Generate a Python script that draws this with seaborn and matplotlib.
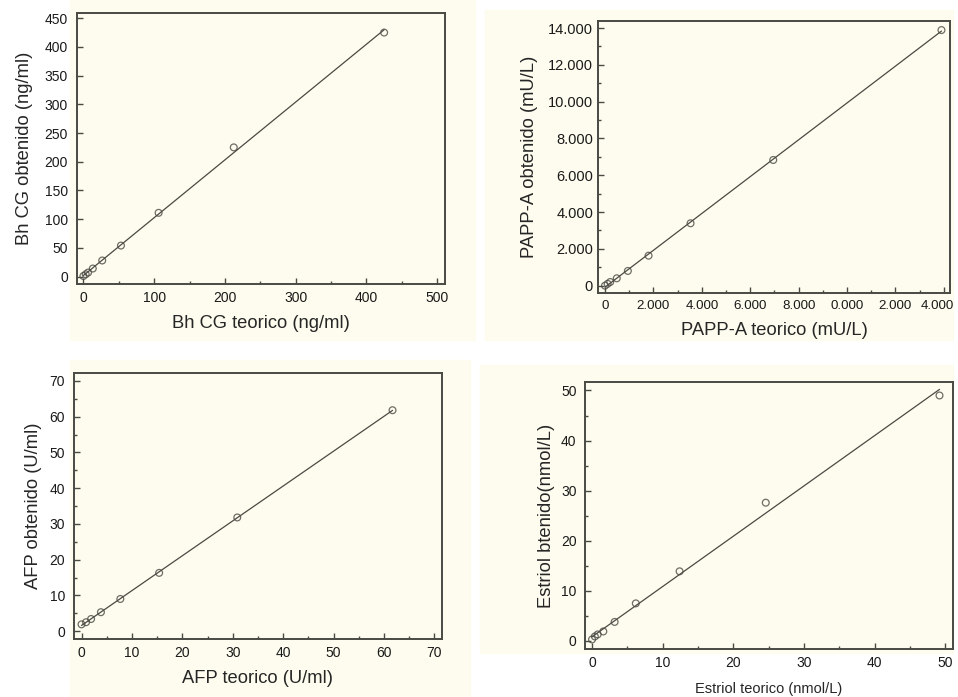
import numpy as np
import matplotlib
matplotlib.use("Agg")
import matplotlib.pyplot as plt
from matplotlib.patches import Rectangle
from matplotlib.ticker import MultipleLocator
from matplotlib.transforms import ScaledTranslation
import seaborn as sns

sns.set_style("ticks")
plt.rcParams['font.family'] = ['Liberation Sans', 'DejaVu Sans']

# values
bhcg_teorico = [0, 3.3, 6.6, 13.3, 26.6, 53.1, 106.3, 212.5, 425]
bhcg_obtenido = [1, 4, 7, 14, 28, 54, 111, 225, 425]

pappa_teorico = [0, 108, 216, 486, 944, 1800, 3534, 6950, 13900]
pappa_obtenido = [0, 100, 200, 400, 800, 1630, 3390, 6830, 13890]

afp_teorico = [0, 0.9, 1.9, 3.85, 7.7, 15.4, 30.9, 61.7]
afp_obtenido = [1.9, 2.5, 3.4, 5.3, 9.0, 16.3, 31.8, 61.8]

estriol_teorico = [0, 0.4, 0.8, 1.6, 3.2, 6.2, 12.4, 24.6, 49.2]
estriol_obtenido = [0.3, 0.9, 1.3, 1.9, 3.8, 7.5, 13.9, 27.6, 49.0]

pappa_ticks = [0, 2000, 4000, 6000, 8000, 10000, 12000, 14000]
pappa_xlabels = ['0', '2.000', '4.000', '6.000', '8.000', '0.000', '2.000', '4.000']
pappa_ylabels = ['0', '2.000', '4.000', '6.000', '8.000', '10.000', '12.000', '14.000']

cream = '#fdfcee'
dark = '#4a4a44'

fig = plt.figure(figsize=(9.58, 6.97), dpi=100)

# cream backgrounds behind each panel (pixel boxes: left, top, right, bottom)
for l, t, r, b in [(70, 0, 475, 340), (485, 10, 953, 340),
                   (70, 360, 470, 697), (480, 365, 953, 653)]:
    fig.patches.append(Rectangle((l / 958, 1 - b / 697), (r - l) / 958, (b - t) / 697,
                                 transform=fig.transFigure, color=cream, zorder=-10))

ax1 = fig.add_axes([0.0804, 0.5925, 0.3841, 0.3888])
ax2 = fig.add_axes([0.6242, 0.5796, 0.3674, 0.3902])
ax3 = fig.add_axes([0.0772, 0.0832, 0.3841, 0.3816])
ax4 = fig.add_axes([0.6106, 0.0689, 0.3841, 0.3831])


def panel(ax, x, y, size=10, ypad=6.5):
    sns.regplot(x=np.array(x), y=np.array(y), ax=ax, ci=None, truncate=True,
                marker='o',
                scatter_kws=dict(facecolors='none', edgecolors=dark, s=24, linewidths=0.9),
                line_kws=dict(color=dark, lw=0.9))
    ax.set_facecolor(cream)
    for s in ax.spines.values():
        s.set_visible(True)
        s.set_color(dark)
        s.set_linewidth(1.4)
    ax.tick_params(which='major', direction='in', length=4, width=1, color=dark,
                   labelsize=size, labelcolor='#1a1a1a', top=False, right=False)
    ax.tick_params(axis='x', which='major', pad=5)
    ax.tick_params(axis='y', which='major', pad=ypad)
    ax.tick_params(which='minor', direction='in', length=2, width=1, color=dark,
                   top=False, right=False)


panel(ax1, bhcg_teorico, bhcg_obtenido)
ax1.set_xlim(-9, 511)
ax1.set_ylim(-13, 459)
ax1.xaxis.set_major_locator(MultipleLocator(100))
ax1.xaxis.set_minor_locator(MultipleLocator(50))
ax1.yaxis.set_major_locator(MultipleLocator(50))
ax1.set_xlabel('Bh CG teorico (ng/ml)', fontsize=13.2, labelpad=7)
ax1.set_ylabel('Bh CG obtenido (ng/ml)', fontsize=13.2, labelpad=8.5)

panel(ax2, pappa_teorico, pappa_obtenido, size=10.5, ypad=3.5)
ax2.tick_params(axis='x', labelsize=9.6)
ax2.set_xlim(-290, 14250)
ax2.set_ylim(-400, 14380)
ax2.set_xticks(pappa_ticks, pappa_xlabels)
ax2.set_yticks(pappa_ticks, pappa_ylabels)
ax2.xaxis.set_minor_locator(MultipleLocator(1000))
ax2.yaxis.set_minor_locator(MultipleLocator(1000))
ax2.set_xlabel('PAPP-A teorico (mU/L)', fontsize=13.2, labelpad=7.5)
ax2.set_ylabel('PAPP-A obtenido (mU/L)', fontsize=13.2, labelpad=7)
# last x label sits a little to the left so it stays inside the picture
last = ax2.get_xticklabels()[-1]
last.set_transform(last.get_transform() + ScaledTranslation(-5 / 72, 0, fig.dpi_scale_trans))

panel(ax3, afp_teorico, afp_obtenido)
ax3.set_xlim(-1.5, 71.5)
ax3.set_ylim(-2.2, 72.2)
for a in (ax3.xaxis, ax3.yaxis):
    a.set_major_locator(MultipleLocator(10))
    a.set_minor_locator(MultipleLocator(5))
ax3.set_xlabel('AFP teorico (U/ml)', fontsize=13.2, labelpad=7)
ax3.set_ylabel('AFP obtenido (U/ml)', fontsize=13.2, labelpad=5)

panel(ax4, estriol_teorico, estriol_obtenido, ypad=6)
ax4.set_xlim(-1.0, 51.1)
ax4.set_ylim(-1.6, 51.7)
for a in (ax4.xaxis, ax4.yaxis):
    a.set_major_locator(MultipleLocator(10))
    a.set_minor_locator(MultipleLocator(5))
ax4.set_xlabel('Estriol teorico (nmol/L)', fontsize=10.5, labelpad=9)
ax4.set_ylabel('Estriol btenido(nmol/L)', fontsize=13.2, labelpad=4)

fig.savefig('out.png', dpi=100, facecolor='white')
